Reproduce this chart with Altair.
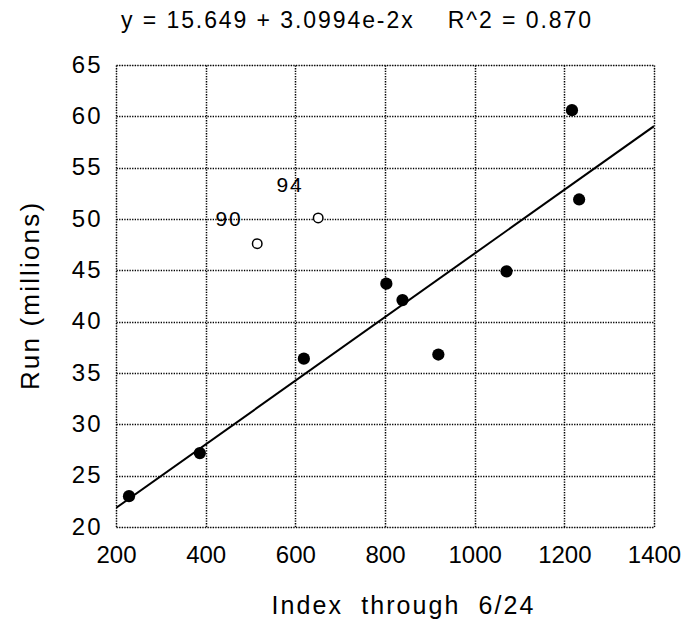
import altair as alt
import pandas as pd

# Filled (regular) points
fx = [229, 387, 619, 803, 839, 919, 1071, 1217, 1233]
fy = [23.0, 27.2, 36.4, 43.7, 42.1, 36.8, 44.9, 60.6, 51.9]
# Open (highlighted) points
ox = [515, 651]
oy = [47.6, 50.1]
# Point labels
lab_x = [450, 586]
lab_y = [49.9, 53.2]
lab_t = ["90", "94"]
# Fitted line end points
line_x = [200, 1400]
line_y = [21.85, 59.04]
x_ticks = [200, 400, 600, 800, 1000, 1200, 1400]
y_ticks = [20, 25, 30, 35, 40, 45, 50, 55, 60, 65]

FONT = "Liberation Sans"
HS = "\u200a"


def spaced(s):
    return HS.join(list(s))


filled = pd.DataFrame({"x": fx, "y": fy})
opened = pd.DataFrame({"x": ox, "y": oy})
labels = pd.DataFrame({"x": lab_x, "y": lab_y, "t": [spaced(t) for t in lab_t]})
fit = pd.DataFrame({"x": line_x, "y": line_y})

xs = alt.Scale(domain=[200, 1400], nice=False, zero=False)
ys = alt.Scale(domain=[20, 65], nice=False, zero=False)

common = dict(ticks=False, domain=False, labelFont=FONT, titleFont=FONT,
              labelColor="black", titleColor="black", labelOverlap=False, labelFlush=False,
              titleFontWeight="normal", format="d",
              grid=True, gridColor="black", gridDash=[1.3, 1.3], gridWidth=1.5, gridOpacity=1)

xax = alt.Axis(values=x_ticks, title=spaced("Index  through  6/24"),
               labelFontSize=24, labelPadding=16, titleFontSize=25, titlePadding=26,
               titleX=286, **common)
yax = alt.Axis(values=y_ticks, title=spaced("Run (millions)"),
               labelFontSize=24, labelPadding=16, titleFontSize=26, titlePadding=28,
               labelExpr="join(split(datum.label, ''), '\u200a')", **common)

line = alt.Chart(fit).mark_line(color="black", strokeWidth=2, clip=True).encode(
    x=alt.X("x:Q", scale=xs, axis=xax), y=alt.Y("y:Q", scale=ys, axis=yax))

pts = alt.Chart(filled).mark_point(filled=True, color="black", size=150, opacity=1).encode(
    x=alt.X("x:Q", scale=xs), y=alt.Y("y:Q", scale=ys))

opts = alt.Chart(opened).mark_point(filled=False, color="black", fill="white", fillOpacity=1,
                                    size=90, strokeWidth=1.5, opacity=1).encode(
    x=alt.X("x:Q", scale=xs), y=alt.Y("y:Q", scale=ys))

txt = alt.Chart(labels).mark_text(fontSize=21, font=FONT, align="center", baseline="middle",
                                  color="black").encode(
    x=alt.X("x:Q", scale=xs), y=alt.Y("y:Q", scale=ys), text="t:N")

chart = alt.layer(line, pts, opts, txt).properties(
    width=538, height=462,
    padding={"left": 108, "top": 57, "right": 28, "bottom": 92},
    autosize="none",
    title=alt.TitleParams(spaced("y = 15.649 + 3.0994e-2x    R^2 = 0.870"), anchor="middle",
                          frame="group", fontSize=23, font=FONT, fontWeight="normal",
                          offset=20, dx=-29, color="black"),
).configure_view(stroke="black", strokeWidth=2).configure(background="white")

chart.save("out.html", embed_options={"renderer": "svg", "actions": False})
